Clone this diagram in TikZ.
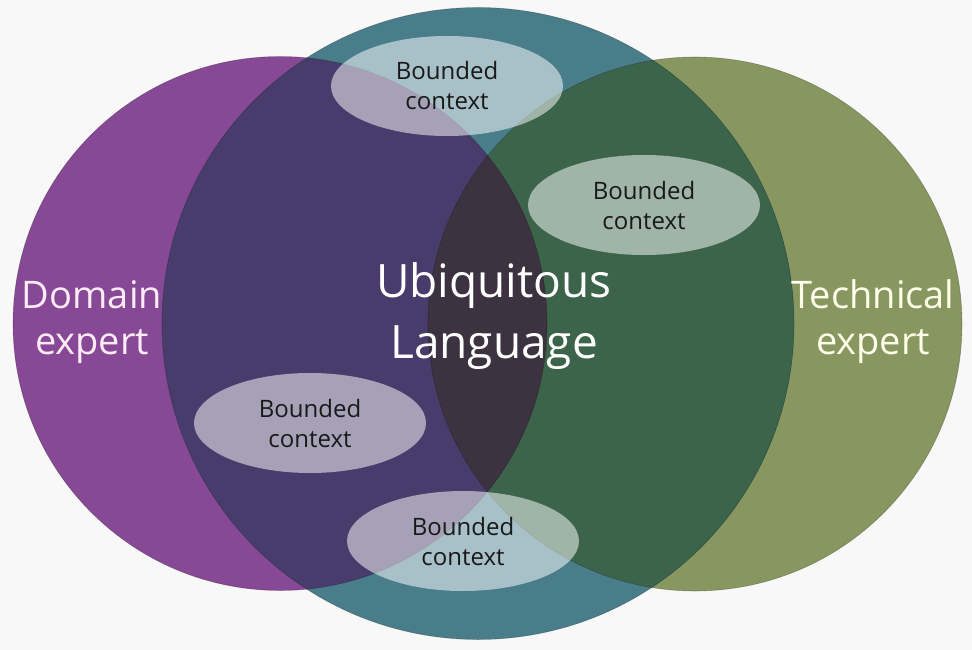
\documentclass[tikz,border=0pt]{standalone}
\usepackage{fontspec}
\setmainfont{Open Sans}
\usepackage{tikz}
\usetikzlibrary{shapes.geometric}
\definecolor{bgcol}{RGB}{248,248,248}
\definecolor{domcol}{RGB}{135,72,150}
\definecolor{ubicol}{RGB}{74,125,138}
\definecolor{techcol}{RGB}{136,150,96}
\definecolor{domubi}{RGB}{72,60,108}
\definecolor{techubi}{RGB}{60,100,74}
\definecolor{allcol}{RGB}{60,50,64}

\begin{document}
\begin{tikzpicture}[x=1pt,y=-1pt,
    bounded/.style={ellipse,fill=white,fill opacity=.52,text opacity=1,
      minimum width=232pt,minimum height=100pt,inner sep=0pt,align=center,
      font=\fontsize{24}{30}\selectfont,text=black!90},
    rim/.style={draw=black,draw opacity=.25,line width=.6pt}]
  \fill[bgcol] (0,0) rectangle (972,650);
  % the three circles
  \fill[domcol] (280,323.5) circle[radius=267pt];
  \fill[techcol] (695,324) circle[radius=267pt];
  \fill[ubicol] (478,323.5) circle[radius=316pt];
  \begin{scope}
    \clip (478,323.5) circle[radius=316pt];
    \fill[domubi] (280,323.5) circle[radius=267pt];
    \fill[techubi] (695,324) circle[radius=267pt];
    \clip (280,323.5) circle[radius=267pt];
    \fill[allcol] (695,324) circle[radius=267pt];
  \end{scope}
  \path[rim] (280,323.5) circle[radius=267pt];
  \path[rim] (695,324) circle[radius=267pt];
  \path[rim] (478,323.5) circle[radius=316pt];
  % labels
  \node[align=center,text=white!92!magenta,font=\fontsize{38}{46}\selectfont] (dom) at (92,322) {Domain\\expert};
  \node[align=center,text=white!92!yellow,font=\fontsize{38}{46}\selectfont] (tech) at (873,322) {Technical\\expert};
  \node[align=center,text=white,font=\fontsize{46}{61}\selectfont] (ubi) at (494,316) {Ubiquitous\\Language};
  % bounded contexts
  \node[bounded] (bc1) at (447,86) {Bounded\\context};
  \node[bounded] (bc2) at (644,205) {Bounded\\context};
  \node[bounded] (bc3) at (310,423) {Bounded\\context};
  \node[bounded] (bc4) at (463,541) {Bounded\\context};
\end{tikzpicture}
\end{document}
